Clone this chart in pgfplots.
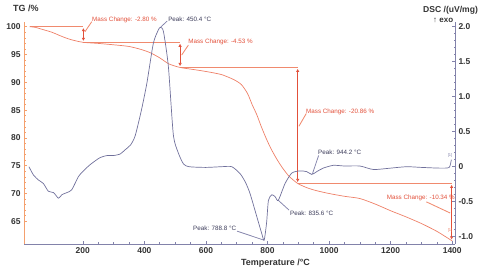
\documentclass[border=0pt]{standalone}
\usepackage{fontspec}
\setmainfont{Liberation Sans}
\usepackage{pgfplots}
\pgfplotsset{compat=1.18}
\usetikzlibrary{arrows.meta}
\definecolor{tgc}{RGB}{238,128,104}
\definecolor{dscc}{RGB}{112,112,155}
\definecolor{annc}{RGB}{226,80,58}
\definecolor{annl}{RGB}{240,138,110}
\definecolor{tgax}{RGB}{244,160,110}
\definecolor{dscax}{RGB}{130,130,170}
\definecolor{peakc}{RGB}{60,60,90}
\newcommand{\annfont}{\fontsize{6.3}{7}\selectfont}
\newcommand{\tickfont}{\bfseries\fontsize{8.5}{9}\selectfont}
\pgfplotsset{
  annline/.style={color=annl, line width=0.85pt, mark=none},
  annarrow/.style={color=annc, line width=0.75pt, mark=none, {Triangle[open,length=3bp,width=3bp]}-{Triangle[open,length=3bp,width=3bp]}, shorten <=1.5bp, shorten >=1.5bp},
  peakline/.style={color=dscax, line width=0.75pt, mark=none}}
\begin{document}
\begin{tikzpicture}
\useasboundingbox (-24bp,-28bp) rectangle (456bp,244bp);
% ---------------- TG axis ----------------
\begin{axis}[
  scale only axis, width=431bp, height=222bp,
  xmin=9, xmax=1409, ymin=60.92, ymax=100.85,
  axis x line*=bottom, axis y line*=left,
  x axis line style={-, draw=dscax, line width=0.7pt},
  y axis line style={-, draw=tgax, line width=0.7pt},
  xtick={200,400,600,800,1000,1200,1400},
  ytick={65,70,75,80,85,90,95,100},
  minor x tick num=3, minor y tick num=4,
  major tick length=3bp, minor tick length=1.5bp,
  x tick style={draw=dscax, line width=0.6pt}, y tick style={draw=tgax, line width=0.6pt},
  tick align=inside,
  /pgf/number format/assume math mode=true,
  /pgf/number format/1000 sep={},
  ticklabel style={font=\tickfont, text=black!80},
  clip=false,
]
% mass change annotations (horizontal reference lines)
\addplot[annline] coordinates {(27,100) (202,100)};
\addplot[annline] coordinates {(202,97.2) (516,97.2)};
\addplot[annline] coordinates {(516,92.67) (898,92.67)};
\addplot[annline] coordinates {(898,71.81) (1400,71.81)};
% leader lines
\addplot[annline] coordinates {(229,100.9) (207,99.1)};
\addplot[annline] coordinates {(543,96.7) (521,94.9)};
\addplot[annline] coordinates {(926,84.4) (902,82.1)};
\addplot[annline] coordinates {(1316,68.5) (1393,66.5)};
% TG curve
\addplot[color=tgc, line width=0.7pt, smooth, tension=0.4, mark=none] coordinates {
(27,100.0)(45,99.9)(70,99.5)(100,99.0)(130,98.3)(160,97.7)(200,97.2)(250,97.0)
(300,96.75)(350,96.45)(390,95.9)(420,95.3)(450,94.4)(480,93.3)(516,92.67)(560,92.3)
(600,91.95)(650,91.4)(690,90.5)(715,89.6)(735,88.0)(750,86.0)(765,84.2)(780,82.0)
(795,80.0)(810,78.2)(830,76.2)(850,74.5)(870,73.1)(898,71.81)(930,71.0)(960,70.5)
(1000,70.0)(1050,69.5)(1100,69.1)(1150,68.1)(1200,66.9)(1250,65.8)(1300,64.6)
(1350,63.2)(1400,61.47)
};
% vertical double arrows
\addplot[annarrow] coordinates {(202,100) (202,97.2)};
\addplot[annarrow] coordinates {(516,97.2) (516,92.67)};
\addplot[annarrow] coordinates {(898,92.67) (898,71.81)};
\addplot[annarrow] coordinates {(1398,71.81) (1398,61.47)};
\node[anchor=west, inner sep=0, text=annc, font=\annfont] at (axis cs:230,101.2) {Mass Change: -2.80 \%};
\node[anchor=west, inner sep=0, text=annc, font=\annfont] at (axis cs:542,97.3) {Mass Change: -4.53 \%};
\node[anchor=west, inner sep=0, text=annc, font=\annfont] at (axis cs:925,84.6) {Mass Change: -20.86 \%};
\node[anchor=east, inner sep=0, text=annc, font=\annfont] at (axis cs:1409,69.2) {Mass Change: -10.34 \%};
\node[inner sep=0, text=tgc, font=\fontsize{4}{4}\selectfont] at (axis cs:1393,63.4) {[1]};
\end{axis}
% ---------------- DSC axis ----------------
\begin{axis}[
  scale only axis, width=431bp, height=222bp,
  xmin=9, xmax=1409, ymin=-1.104, ymax=2.067,
  axis x line=none, axis y line*=right,
  y axis line style={-, draw=dscax, line width=0.7pt},
  ytick={-1,-0.5,0,0.5,1,1.5,2},
  yticklabels={-1.0,-0.5,0,0.5,1.0,1.5,2.0},
  minor y tick num=4,
  major tick length=3bp, minor tick length=1.5bp,
  y tick style={draw=dscax, line width=0.6pt},
  tick align=inside,
  ticklabel style={font=\tickfont, text=black!80},
  clip=false,
]
\addplot[peakline] coordinates {(452,1.99) (474,2.08)};
\addplot[peakline] coordinates {(701,-0.92) (789,-1.05)};
\addplot[peakline] coordinates {(835,-0.48) (870,-0.62)};
\addplot[peakline] coordinates {(946,-0.1) (966,0.16)};
\addplot[color=dscc, line width=0.7pt, smooth, tension=0.4, mark=none] coordinates {
(25,0.00)(40,-0.12)(56,-0.19)(72,-0.24)(88,-0.35)(105,-0.37)(121,-0.45)(132,-0.40)
(148,-0.37)(164,-0.33)(186,-0.14)(202,-0.06)(224,0.03)(256,0.13)(280,0.16)(300,0.16)
(321,0.18)(337,0.24)(355,0.31)(370,0.44)(390,0.8)(408,1.19)(429,1.76)(445,1.95)
(452,1.99)(462,1.93)(478,1.43)(494,0.46)(510,0.2)(527,0.04)(545,0.0)(600,-0.01)
(650,0.0)(684,0.0)(711,-0.1)(728,-0.22)(743,-0.38)(765,-0.71)(781,-0.95)(789,-1.05)
(797,-0.8)(803,-0.48)(814,-0.40)(825,-0.43)(835,-0.48)(857,-0.24)(879,-0.09)
(905,-0.06)(927,-0.07)(944,-0.11)(960,-0.07)(981,-0.02)(1014,0.02)(1050,0.01)
(1100,0.01)(1144,-0.04)(1200,-0.02)(1252,0.0)(1300,-0.01)(1360,-0.02)(1390,-0.01)(1397,0.1)
};
\node[anchor=west, inner sep=0, text=peakc, font=\annfont] at (axis cs:477,2.10) {Peak: 450.4 °C};
\node[anchor=west, inner sep=0, text=peakc, font=\annfont] at (axis cs:558,-0.876) {Peak: 788.8 °C};
\node[anchor=west, inner sep=0, text=peakc, font=\annfont] at (axis cs:873,-0.66) {Peak: 835.6 °C};
\node[anchor=west, inner sep=0, text=peakc, font=\annfont] at (axis cs:964,0.21) {Peak: 944.2 °C};
\node[inner sep=0, text=dscax, font=\fontsize{4}{4}\selectfont] at (axis cs:1393,0.16) {[1]};
\end{axis}
% ---------------- titles ----------------
\node[anchor=west, inner sep=0, font=\bfseries\fontsize{9}{10}\selectfont, text=black!80] at (-11bp,236bp) {TG /\%};
\node[anchor=west, inner sep=0, font=\bfseries\fontsize{8.6}{10}\selectfont, text=black!80] at (399bp,234bp) {DSC /(uV/mg)};
\node[anchor=west, inner sep=0, font=\bfseries\fontsize{8}{10}\selectfont, text=black!80] at (409bp,224bp) {↑ exo};
\node[inner sep=0, font=\bfseries\fontsize{9}{10}\selectfont, text=black!80] at (251.5bp,-19bp) {Temperature /°C};
\end{tikzpicture}
\end{document}
